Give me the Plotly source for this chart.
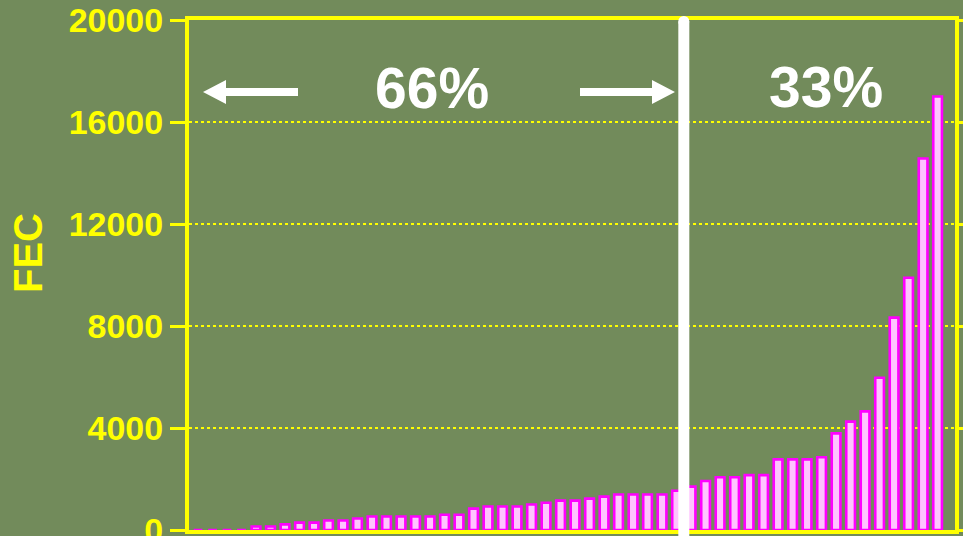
import plotly.graph_objects as go

# ---- data ----
samples = list(range(1, 53))
fec = [0, 0, 0, 0,
       140, 140, 220, 290, 290, 370, 370, 450, 530, 530,
       530, 530, 530, 600, 600, 840, 920, 920, 920, 1000,
       1070, 1150, 1150, 1230, 1310, 1390, 1390, 1390, 1390, 1540,
       1700, 1920, 2070, 2070, 2150, 2150, 2770, 2770, 2770, 2850,
       3790, 4250, 4650, 5970, 8330, 9890, 14570, 17000]
y_ticks = [0, 4000, 8000, 12000, 16000, 20000]
y_tick_labels = ["0", "4000", "8000", "12000", "16000", "20000"]
divider_at = 34.5          # between sample 34 and 35
left_label = "66%"
right_label = "33%"
y_title = "FEC"

# ---- layout geometry ----
W, H = 963, 536
ML, MR, MT, MB = 189, 8, 20, 6
XR = [0.379, 53.2]
YR = [0, 20000]
BG = "#728b5b"
YEL = "#ffff00"

def px(xp):
    return (xp - ML) / (W - ML - MR)

def py(yp):
    return (H - MB - yp) / (H - MT - MB)

fig = go.Figure()
fig.add_trace(go.Bar(
    x=samples, y=fec, width=0.6,
    marker=dict(color="#ffc4ff", line=dict(color="#ff00ff", width=2.6)),
    hoverinfo="x+y",
))

div_x = (divider_at - XR[0]) / (XR[1] - XR[0])
div_half = 5.5 / (W - ML - MR)
shapes = [
    dict(type="rect", xref="paper", yref="paper",
         x0=div_x - div_half, x1=div_x + div_half, y0=py(545), y1=py(21.5),
         fillcolor="white", line=dict(width=0), layer="above"),
    dict(type="circle", xref="paper", yref="paper",
         x0=div_x - div_half, x1=div_x + div_half, y0=py(27), y1=py(16),
         fillcolor="white", line=dict(width=0), layer="above"),
]

def arrow_path(points):
    s = "M " + " L ".join(f"{px(a):.5f},{py(b):.5f}" for a, b in points) + " Z"
    return s

left_arrow = [(298, 88), (226, 88), (226, 80), (203, 92), (226, 104), (226, 96), (298, 96)]
right_arrow = [(580, 88), (652, 88), (652, 80), (675, 92), (652, 104), (652, 96), (580, 96)]
for pts in (left_arrow, right_arrow):
    shapes.append(dict(type="path", xref="paper", yref="paper", path=arrow_path(pts),
                       fillcolor="white", line=dict(width=0), layer="above"))

annotations = [
    dict(text=left_label, xref="paper", yref="paper", x=px(432), y=py(88),
         showarrow=False, xanchor="center", yanchor="middle",
         font=dict(family="Liberation Sans", size=57, color="white", weight="bold")),
    dict(text=right_label, xref="paper", yref="paper", x=px(826), y=py(87),
         showarrow=False, xanchor="center", yanchor="middle",
         font=dict(family="Liberation Sans", size=57, color="white", weight="bold")),
    dict(text=y_title, xref="paper", yref="paper", x=px(28), y=py(253),
         showarrow=False, xanchor="center", yanchor="middle", textangle=-90,
         font=dict(family="Liberation Sans", size=40, color=YEL, weight="bold")),
]

fig.update_layout(
    width=W, height=H,
    margin=dict(l=ML, r=MR, t=MT, b=MB, pad=0, autoexpand=False),
    paper_bgcolor=BG, plot_bgcolor=BG,
    showlegend=False,
    shapes=shapes,
    annotations=annotations,
    xaxis=dict(range=XR, showgrid=False, zeroline=False, showticklabels=False,
               ticks="", showline=True, linecolor=YEL, linewidth=4, mirror=True,
               automargin=False),
    yaxis=dict(range=YR, tickvals=y_ticks, ticktext=y_tick_labels,
               showgrid=True, gridcolor=YEL, gridwidth=2, griddash="dot",
               zeroline=False, showline=True, linecolor=YEL, linewidth=4,
               mirror="ticks", ticks="outside", ticklen=15, tickwidth=3,
               tickcolor=YEL, automargin=False, ticklabeloverflow="allow",
               tickfont=dict(family="Liberation Sans", size=34, color=YEL, weight="bold")),
)

fig.write_html("out.html")
